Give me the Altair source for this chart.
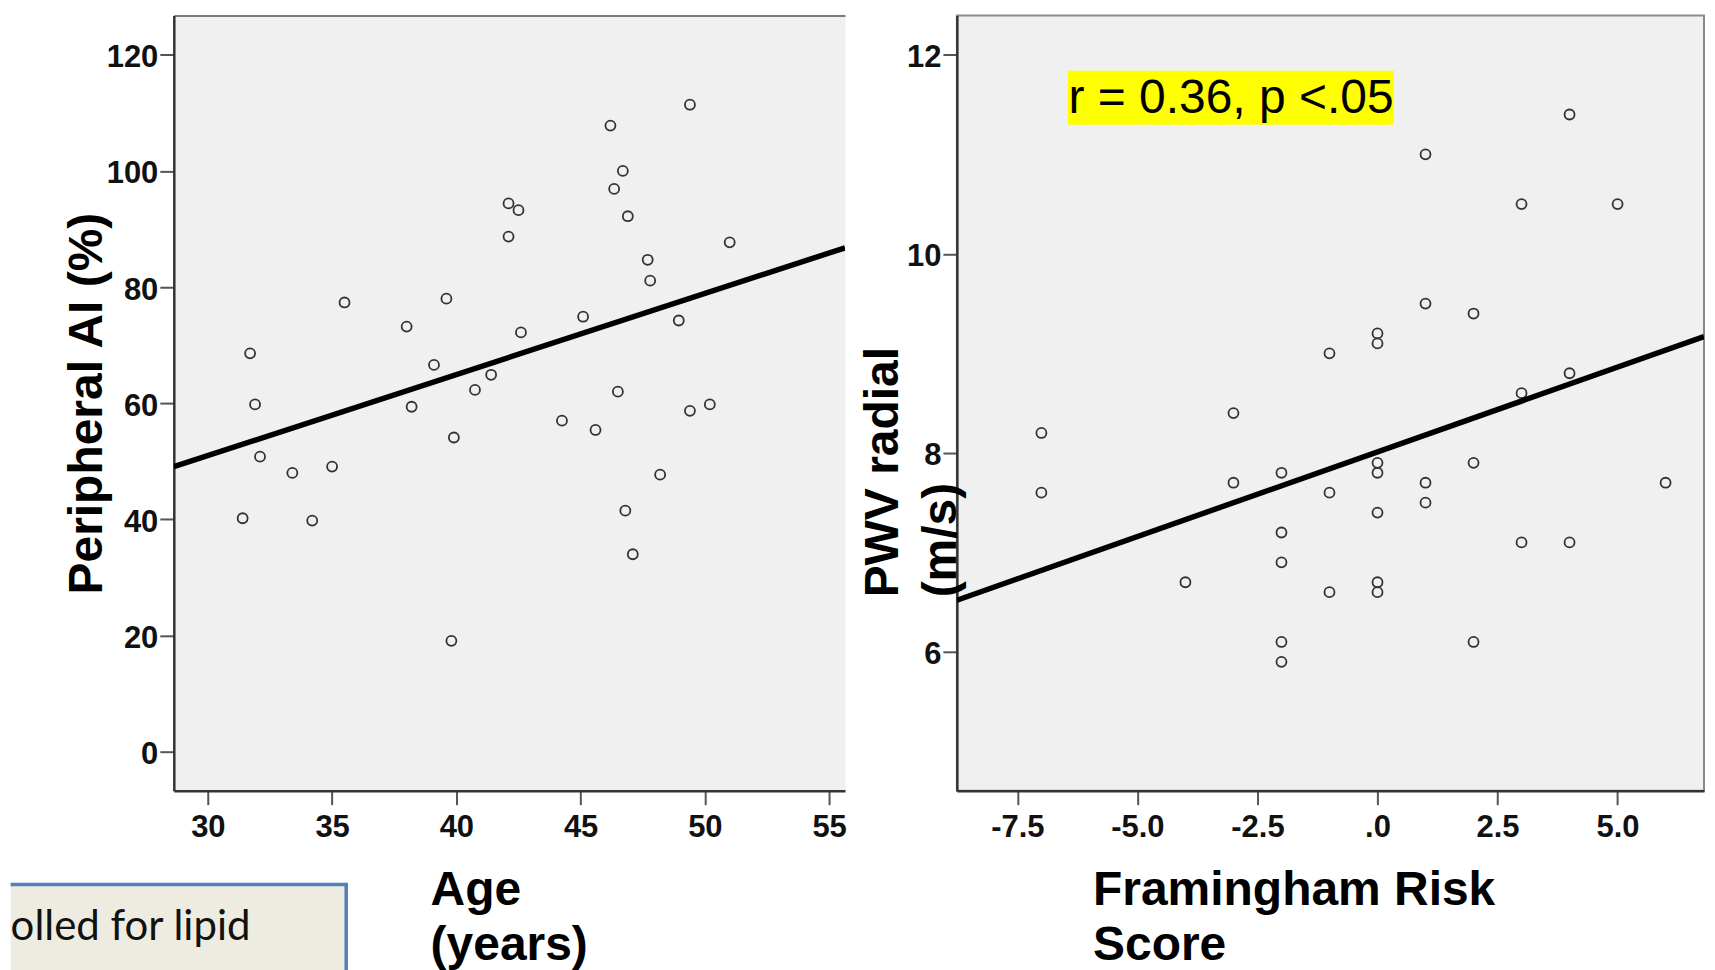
import altair as alt
import pandas as pd

# ---------------- data ----------------
# Left panel: Age (years) vs Peripheral AI (%)
age_years = [49.4, 46.2, 46.7, 46.35, 42.1, 42.5, 46.9, 42.1, 51.0, 47.7,
             47.8, 35.5, 39.6, 45.1, 48.95, 38.0, 42.6, 31.7, 39.1, 41.4,
             40.75, 46.5, 31.9, 38.2, 50.2, 49.4, 44.25, 45.6, 39.9, 32.1,
             35.0, 33.4, 48.2, 31.4, 34.2, 46.8, 47.1, 39.8]
peripheral_ai = [111.4, 107.8, 100.0, 96.9, 94.4, 93.25, 92.2, 88.7, 87.7, 84.7,
                 81.1, 77.35, 78.0, 74.9, 74.25, 73.2, 72.2, 68.6, 66.6, 64.9,
                 62.3, 62.0, 59.8, 59.4, 59.8, 58.7, 57.0, 55.4, 54.1, 50.8,
                 49.1, 48.0, 47.7, 40.2, 39.8, 41.5, 34.0, 19.1]

# Right panel: Framingham Risk Score vs PWV radial (m/s)
framingham = [4, 1, 3, 5, 1, 2, 0, 0, -1, 4, 3, -3, -7, 0, 2, 0, -2, -3, 1, 6,
              -7, -1, 1, 0, -2, 3, 4, -2, -4, 0, 0, -1, -2, 2, -2]
pwv_radial = [11.4, 11.0, 10.5, 10.5, 9.5, 9.4, 9.2, 9.1, 9.0, 8.8, 8.6, 8.4,
              8.2, 7.9, 7.9, 7.8, 7.8, 7.7, 7.7, 7.7, 7.6, 7.6, 7.5, 7.4, 7.2,
              7.1, 7.1, 6.9, 6.7, 6.7, 6.6, 6.6, 6.1, 6.1, 5.9]

left_x_ticks = [30, 35, 40, 45, 50, 55]
left_y_ticks = [0, 20, 40, 60, 80, 100, 120]
right_x_ticks = [-7.5, -5.0, -2.5, 0.0, 2.5, 5.0]
right_y_ticks = [6, 8, 10, 12]

annotation_text = ["r = 0.36, p <.05"]
note_text = ["olled for lipid"]

dfL = pd.DataFrame({"age": age_years, "ai": peripheral_ai})
dfR = pd.DataFrame({"frs": framingham, "pwv": pwv_radial})
ann_df = pd.DataFrame({"label": annotation_text})
note_df = pd.DataFrame({"note": note_text})

# ---------------- layout / style ----------------
W_L, W_R, H = 672, 748, 776
LX = [28.63, 55.64]
LY = [-6.7, 126.75]
RX = [-8.76, 6.80]
RY = [4.606, 12.394]

LABEL_FONT = "Liberation Sans"
TITLE_FONT = "Liberation Sans"
PLOT_BG = "#f0f0f0"


def axis(**kw):
    base = dict(grid=False, domainColor="#333333", domainWidth=2.5,
                tickColor="#555555", tickWidth=2, tickSize=14,
                labelFont=LABEL_FONT, labelFontWeight="bold", labelFontSize=31,
                labelColor="#111111", titleFont=TITLE_FONT,
                titleFontWeight="bold", titleFontSize=48, titleColor="#000000")
    base.update(kw)
    return alt.Axis(**base)


point_style = dict(shape="circle", filled=False, size=100, strokeWidth=1.8,
                   color="#333333", opacity=1)

# ---------------- left panel ----------------
xL = alt.Scale(domain=LX, nice=False, zero=False)
yL = alt.Scale(domain=LY, nice=False, zero=False)

pointsL = alt.Chart(dfL).mark_point(**point_style).encode(
    x=alt.X("age:Q", scale=xL,
            axis=axis(values=left_x_ticks, labelPadding=8, format="d",
                      title=["Age", "(years)"], titleAlign="left",
                      titleAngle=0, titleBaseline="alphabetic",
                      titleX=256.6, titleY=114.3, titleLineHeight=55)),
    y=alt.Y("ai:Q", scale=yL,
            axis=axis(values=left_y_ticks, labelPadding=2, labelOffset=3,
                      format="d",
                      title="Peripheral AI (%)", titleFontSize=48,
                      titleAngle=270, titleAlign="center",
                      titleBaseline="alphabetic", titleX=-72, titleY=388)),
)

lineL = alt.Chart(dfL).transform_regression(
    "age", "ai", extent=LX
).mark_line(color="black", strokeWidth=5.5, clip=True).encode(
    x=alt.X("age:Q", scale=xL,
            axis=alt.Axis(orient="top", labels=False, ticks=False, grid=False,
                          domain=True, domainColor="#7a7a7a", domainWidth=2,
                          title=None)),
    y=alt.Y("ai:Q", scale=yL),
)

BOX_L, BOX_R, BOX_T, BOX_B = -163.4, 172.6, 870, 956
box_fill = alt.Chart(note_df).mark_rect(color="#EEECE1").encode(
    x=alt.value(BOX_L), x2=alt.value(BOX_R), y=alt.value(BOX_T), y2=alt.value(BOX_B))
box_top = alt.Chart(note_df).mark_rule(color="#4F81BD", strokeWidth=3.5).encode(
    x=alt.value(BOX_L), x2=alt.value(BOX_R + 1.75), y=alt.value(BOX_T))
box_right = alt.Chart(note_df).mark_rule(color="#4F81BD", strokeWidth=3.5).encode(
    x=alt.value(BOX_R), y=alt.value(BOX_T), y2=alt.value(BOX_B))
note = alt.Chart(note_df).mark_text(
    align="left", baseline="alphabetic", font="Lato", fontSize=42, color="#111111"
).encode(x=alt.value(BOX_L), y=alt.value(926), text="note:N")

left = alt.layer(pointsL, lineL, box_fill, box_top, box_right, note).resolve_axis(
    x="independent"
).properties(width=W_L, height=H,
             view=alt.ViewBackground(fill=PLOT_BG, stroke="transparent"))

# ---------------- right panel ----------------
xR = alt.Scale(domain=RX, nice=False, zero=False)
yR = alt.Scale(domain=RY, nice=False, zero=False)

label_expr = ("datum.value == 0 ? '.0' : (datum.value < 0 ? '-' : '') + "
              "format(abs(datum.value), '.1f')")

pointsR = alt.Chart(dfR).mark_point(**point_style).encode(
    x=alt.X("frs:Q", scale=xR,
            axis=axis(values=right_x_ticks, labelPadding=8, labelExpr=label_expr,
                      title=["Framingham Risk", "Score"], titleAlign="left",
                      titleAngle=0, titleBaseline="alphabetic",
                      titleX=135.8, titleY=114.3, titleLineHeight=55)),
    y=alt.Y("pwv:Q", scale=yR,
            axis=axis(values=right_y_ticks, labelPadding=2, labelOffset=3,
                      format="d",
                      title=["PWV radial", "(m/s)"], titleFontSize=48,
                      titleAngle=270, titleAlign="left",
                      titleBaseline="alphabetic", titleX=-59, titleY=582,
                      titleLineHeight=58)),
)

lineR = alt.Chart(dfR).transform_regression(
    "frs", "pwv", extent=RX
).mark_line(color="black", strokeWidth=5.5, clip=True).encode(
    x=alt.X("frs:Q", scale=xR),
    y=alt.Y("pwv:Q", scale=yR),
)

ann_box = alt.Chart(ann_df).mark_rect(color="#FFFF00").encode(
    x=alt.datum(-6.45), x2=alt.datum(0.344), y=alt.datum(11.84), y2=alt.datum(11.298))
ann_text = alt.Chart(ann_df).mark_text(
    font=TITLE_FONT, fontSize=48, color="#000000", align="center", baseline="middle"
).encode(x=alt.datum(-3.05), y=alt.datum(11.56), text="label:N")

right = alt.layer(ann_box, ann_text, pointsR, lineR).properties(
    width=W_R, height=H,
    view=alt.ViewBackground(fill=PLOT_BG, stroke="#8a8a8a", strokeWidth=2))

chart = alt.hconcat(left, right, spacing=112, bounds="flush").properties(
    padding={"left": 0, "top": 6, "right": 2, "bottom": 0}
).configure(font=TITLE_FONT)

chart.save("out.html", embed_options={"renderer": "svg", "actions": False})
